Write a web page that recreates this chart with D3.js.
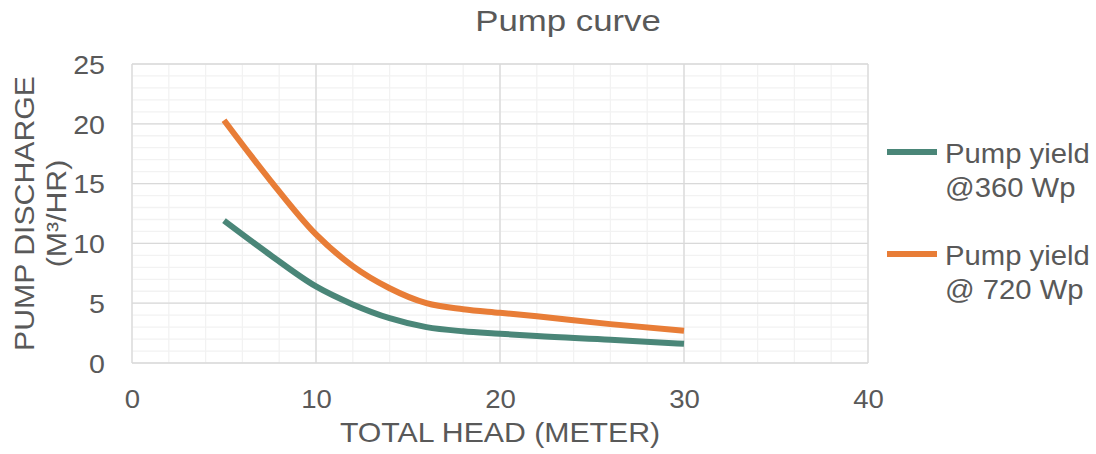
<!DOCTYPE html>
<html>
<head>
<meta charset="utf-8">
<script src="https://cdn.jsdelivr.net/npm/d3@7"></script>
<style>
  html, body { margin: 0; padding: 0; background: #fff; }
  svg { display: block; }
  text { font-family: "Liberation Sans", Arial, sans-serif; fill: #595959; }
</style>
</head>
<body>
<svg id="chart" width="1096" height="454"></svg>
<script>
// ---- data ----
const title = "Pump curve";
const xAxisTitle = "TOTAL HEAD (METER)";
const yAxisTitleLines = ["PUMP DISCHARGE", "(M³/HR)"];
const seriesNames = ["Pump yield|@360 Wp", "Pump yield|@ 720 Wp"];
const seriesColors = ["#4a8678", "#e87d37"];
const head = [5, 7.5, 10, 12, 14, 16, 18, 20, 22, 26, 30];
const yield360 = [11.9, 9.05, 6.4, 4.9, 3.75, 3.0, 2.65, 2.45, 2.25, 1.95, 1.6];
const yield720 = [20.3, 15.3, 10.75, 8.1, 6.25, 5.0, 4.5, 4.2, 3.9, 3.25, 2.7];
const xTicks = [0, 10, 20, 30, 40];
const yTicks = [0, 5, 10, 15, 20, 25];
const xMinorTicks = d3.range(0, 41, 2);
const yMinorTicks = d3.range(0, 26, 1);

// ---- layout ----
const svg = d3.select("#chart");
const plot = { left: 132, right: 868, top: 64, bottom: 363 };
const x = d3.scaleLinear().domain([0, 40]).range([plot.left, plot.right]);
const y = d3.scaleLinear().domain([0, 25]).range([plot.bottom, plot.top]);

// minor grid
svg.append("g").selectAll("line").data(xMinorTicks).join("line")
  .attr("x1", d => x(d)).attr("x2", d => x(d))
  .attr("y1", plot.top).attr("y2", plot.bottom)
  .attr("stroke", "#f2f2f2").attr("stroke-width", 1.3);
svg.append("g").selectAll("line").data(yMinorTicks).join("line")
  .attr("y1", d => y(d)).attr("y2", d => y(d))
  .attr("x1", plot.left).attr("x2", plot.right)
  .attr("stroke", "#f2f2f2").attr("stroke-width", 1.3);
// major grid
svg.append("g").selectAll("line").data(xTicks).join("line")
  .attr("x1", d => x(d)).attr("x2", d => x(d))
  .attr("y1", plot.top).attr("y2", plot.bottom)
  .attr("stroke", "#d9d9d9").attr("stroke-width", 1.3);
svg.append("g").selectAll("line").data(yTicks).join("line")
  .attr("y1", d => y(d)).attr("y2", d => y(d))
  .attr("x1", plot.left).attr("x2", plot.right)
  .attr("stroke", "#d9d9d9").attr("stroke-width", 1.3);

// axes (labels only)
const xAxis = d3.axisBottom(x).tickValues(xTicks).tickSize(0).tickPadding(0);
const gx = svg.append("g").attr("transform", `translate(0,${plot.bottom})`).call(xAxis);
gx.select(".domain").remove();
gx.selectAll("text").attr("dy", null).attr("y", null)
  .attr("transform", "translate(0,45) scale(1.06,1)")
  .style("font-size", "26px").attr("fill", "#595959");

const yAxis = d3.axisLeft(y).tickValues(yTicks).tickSize(0).tickPadding(0);
const gy = svg.append("g").attr("transform", `translate(${plot.left},0)`).call(yAxis);
gy.select(".domain").remove();
gy.selectAll("text").attr("x", null).attr("dy", "0.36em")
  .attr("transform", "translate(-27,0) scale(1.1,1)")
  .style("font-size", "26px").attr("fill", "#595959");

// lines
const line = d3.line().x(d => x(d[0])).y(d => y(d[1])).curve(d3.curveMonotoneX);
[yield360, yield720].forEach((vals, i) => {
  svg.append("path")
    .datum(head.map((h, j) => [h, vals[j]]))
    .attr("d", line)
    .attr("fill", "none")
    .attr("stroke", seriesColors[i])
    .attr("stroke-width", 6);
});

// title
svg.append("text").attr("transform", "translate(568,31) scale(1.2,1)")
  .attr("text-anchor", "middle").style("font-size", "29px").text(title);

// x title
svg.append("text")
  .attr("transform", `translate(${(plot.left + plot.right) / 2},442) scale(1.08,1)`)
  .attr("text-anchor", "middle").style("font-size", "28px").text(xAxisTitle);

// y title
const yTitleBase = [34, 66];
yAxisTitleLines.forEach((t, i) => {
  svg.append("text")
    .attr("transform", `translate(${yTitleBase[i]},${(plot.top + plot.bottom) / 2}) rotate(-90) scale(1.08,1)`)
    .attr("text-anchor", "middle").style("font-size", "28px").text(t);
});

// legend
const legendY = [152, 254];
seriesNames.forEach((name, i) => {
  const g = svg.append("g");
  g.append("line").attr("x1", 887).attr("x2", 937)
    .attr("y1", legendY[i]).attr("y2", legendY[i])
    .attr("stroke", seriesColors[i]).attr("stroke-width", 6);
  name.split("|").forEach((t, k) => {
    g.append("text")
      .attr("transform", `translate(945,${legendY[i] + 11 + k * 34}) scale(1.045,1)`)
      .style("font-size", "28px").text(t);
  });
});
</script>
</body>
</html>
